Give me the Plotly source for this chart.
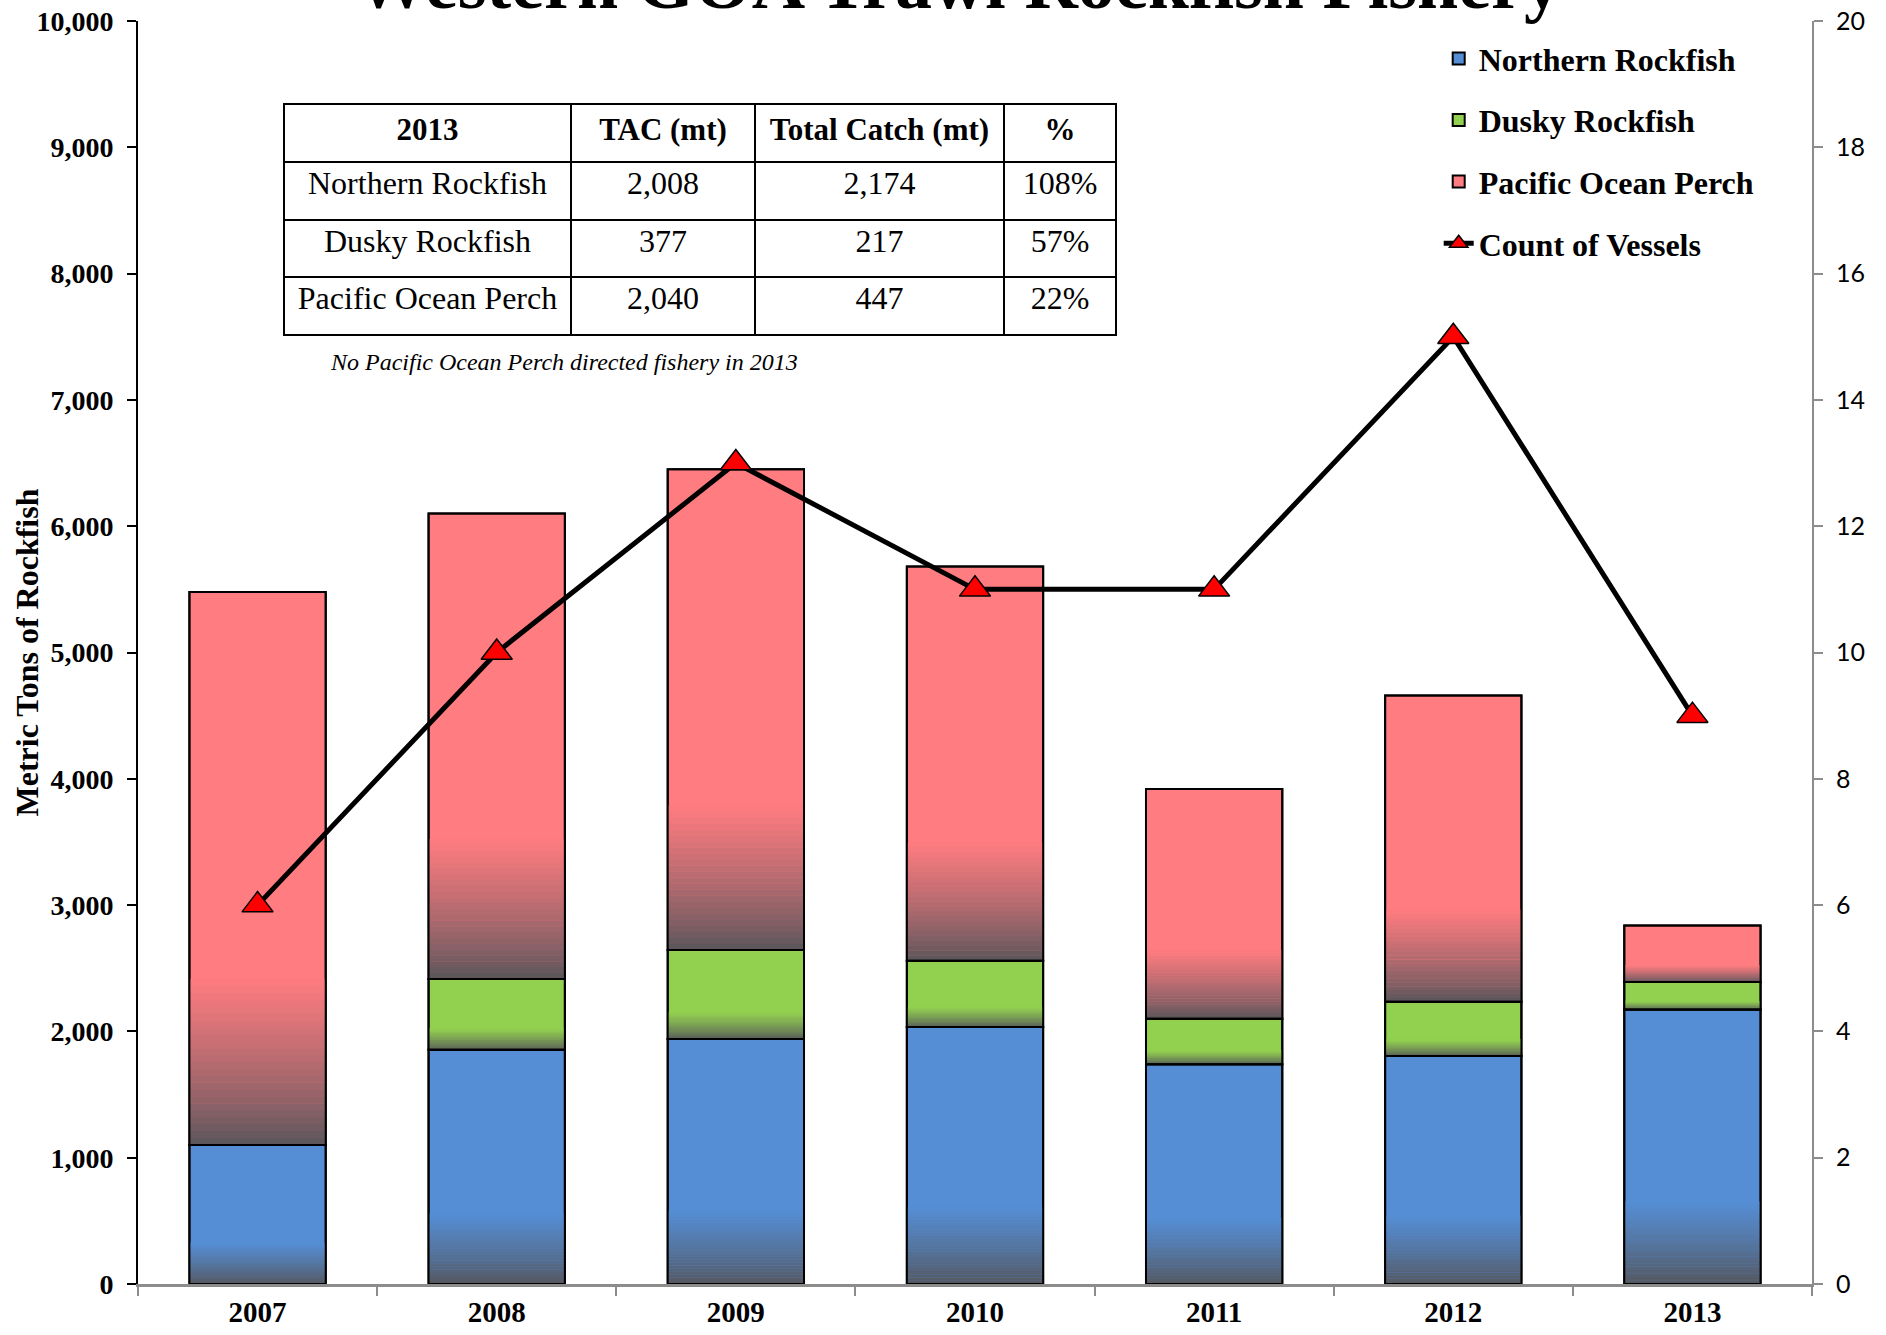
import plotly.graph_objects as go

# ---------------- data ----------------
years = ["2007", "2008", "2009", "2010", "2011", "2012", "2013"]
northern = [1100, 1855, 1940, 2035, 1740, 1805, 2174]
dusky = [0, 560, 705, 525, 360, 430, 217]
pop = [4380, 3685, 3805, 3120, 1820, 2425, 447]
vessels = [6, 10, 13, 11, 11, 15, 9]

table_header = ["2013", "TAC (mt)", "Total Catch (mt)", "%"]
table_species = ["Northern Rockfish", "Dusky Rockfish", "Pacific Ocean Perch"]
table_tac = ["2,008", "377", "2,040"]
table_catch = ["2,174", "217", "447"]
table_pct = ["108%", "57%", "22%"]

title_text = "Western GOA Trawl Rockfish Fishery"
note_text = "No Pacific Ocean Perch directed fishery in 2013"
yaxis_title = "Metric Tons of Rockfish"

# ---------------- style ----------------
SERIF = "Liberation Serif, Times New Roman, serif"
colors = {"Northern Rockfish": (85, 142, 213),
          "Dusky Rockfish": (146, 208, 80),
          "Pacific Ocean Perch": (255, 124, 128)}
dark = (85, 85, 90)
BAR_W = 0.57
N_SLICES = 24
GRAD_FRAC = 0.30

W, H = 1886, 1335
ML, MR, MT, MB = 138, 74, 21, 51
PW, PH = W - ML - MR, H - MT - MB


def px_x(p):
    return (p - ML) / PW


def px_y(p):
    return (H - MB - p) / PH


def rgb(c):
    return "rgb(%d,%d,%d)" % tuple(int(round(v)) for v in c)


def mix(a, b, t):
    return tuple(a[i] + (b[i] - a[i]) * t for i in range(3))


def nobreak(s):
    return s.replace(" ", "\u00a0")


series = [("Northern Rockfish", northern),
          ("Dusky Rockfish", dusky),
          ("Pacific Ocean Perch", pop)]

fig = go.Figure()

bases = [0] * len(years)
seg_info = []
for name, vals in series:
    seg_info.append((name, vals, list(bases)))
    bases = [b + v for b, v in zip(bases, vals)]

# solid fills with legend
for name, vals, base in seg_info:
    fig.add_trace(go.Bar(
        x=years, y=vals, base=base, name=name, width=BAR_W,
        legendgroup=name,
        marker=dict(color=rgb(colors[name]), line=dict(color="black", width=2)),
        hoverinfo="skip"))

# gradient slices at the bottom of each segment
for name, vals, base in seg_info:
    for k in range(N_SLICES):
        t = (k + 0.5) / N_SLICES
        t = t ** 0.8
        h = [v * GRAD_FRAC / N_SLICES for v in vals]
        b = [bb + v * GRAD_FRAC * k / N_SLICES for bb, v in zip(base, vals)]
        fig.add_trace(go.Bar(
            x=years, y=[hh * 1.06 for hh in h], base=b, width=BAR_W,
            legendgroup=name, showlegend=False,
            marker=dict(color=rgb(mix(dark, colors[name], t)), line=dict(width=0)),
            hoverinfo="skip"))

# outlines on top
for name, vals, base in seg_info:
    fig.add_trace(go.Bar(
        x=years, y=vals, base=base, width=BAR_W,
        legendgroup=name, showlegend=False,
        marker=dict(color="rgba(0,0,0,0)", line=dict(color="black", width=2)),
        hoverinfo="skip"))

# vessels line
fig.add_trace(go.Scatter(
    x=years, y=vessels, name="Count of Vessels", yaxis="y2",
    mode="lines+markers", legendgroup="vessels",
    line=dict(color="black", width=5),
    marker=dict(symbol="triangle-up", size=27, color="red",
                line=dict(color="black", width=1.5))))

# table
fig.add_trace(go.Table(
    domain=dict(x=[px_x(284), px_x(1116)], y=[px_y(345), px_y(104)]),
    columnwidth=[287, 184, 249, 112],
    header=dict(values=["<b>%s</b>" % nobreak(h) for h in table_header],
                height=58, align="center",
                line=dict(color="black", width=2), fill=dict(color="white"),
                font=dict(family=SERIF, size=31, color="black")),
    cells=dict(values=[[nobreak(s) for s in table_species], table_tac,
                       table_catch, table_pct],
               height=57.5, align="center",
               line=dict(color="black", width=2), fill=dict(color="white"),
               font=dict(family=SERIF, size=32, color="black"))))

fig.update_layout(
    width=W, height=H,
    margin=dict(l=ML, r=MR, t=MT, b=MB, autoexpand=False),
    paper_bgcolor="white", plot_bgcolor="white",
    barmode="overlay",
    showlegend=True,
    legend=dict(x=0.777, y=0.992, xanchor="left", yanchor="top",
                traceorder="grouped", tracegroupgap=17,
                bgcolor="rgba(0,0,0,0)",
                font=dict(family=SERIF, size=32, color="black", weight="bold")),
    xaxis=dict(type="category", range=[-0.5, 6.5], showline=True,
               linecolor="#8c8c8c", linewidth=2.5, ticks="outside",
               tickson="boundaries", ticklen=9, tickcolor="#8c8c8c", tickwidth=1.5,
               tickfont=dict(family=SERIF, size=29, color="black", weight="bold"),
               showgrid=False, zeroline=False),
    yaxis=dict(range=[0, 10000], dtick=1000, tickformat=",d", showline=True,
               linecolor="black", linewidth=2, ticks="outside", ticklen=9,
               tickcolor="black", tickwidth=2, showgrid=False, zeroline=False,
               ticklabelstandoff=8,
               tickfont=dict(family=SERIF, size=28, color="black", weight="bold")),
    yaxis2=dict(range=[0, 20], dtick=2, overlaying="y", side="right",
                showline=True, linecolor="#8c8c8c", linewidth=2,
                ticks="outside", ticklen=9, tickcolor="#8c8c8c", tickwidth=1.5,
                showgrid=False, zeroline=False, ticklabelstandoff=8,
                tickfont=dict(family="Lato, Carlito, sans-serif", size=25, color="black")),
    annotations=[
        dict(text="<b>%s</b>" % title_text, xref="paper", yref="paper",
             x=px_x(958), y=px_y(-17), xanchor="center",
             yanchor="middle", showarrow=False,
             font=dict(family=SERIF, size=74, color="black")),
        dict(text="<b>%s</b>" % yaxis_title, xref="paper", yref="paper",
             x=0, xshift=26 - ML, y=0.5, xanchor="center", yanchor="middle",
             textangle=-90, showarrow=False,
             font=dict(family=SERIF, size=32, color="black")),
        dict(text="<i>%s</i>" % note_text, xref="paper", yref="paper",
             x=px_x(328), y=px_y(362), xanchor="left",
             yanchor="middle", showarrow=False,
             font=dict(family=SERIF, size=24, color="black")),
    ],
)

fig.write_html("out.html", config={"displayModeBar": False},
               post_script="document.body.style.margin='0';document.body.style.overflow='hidden';")
